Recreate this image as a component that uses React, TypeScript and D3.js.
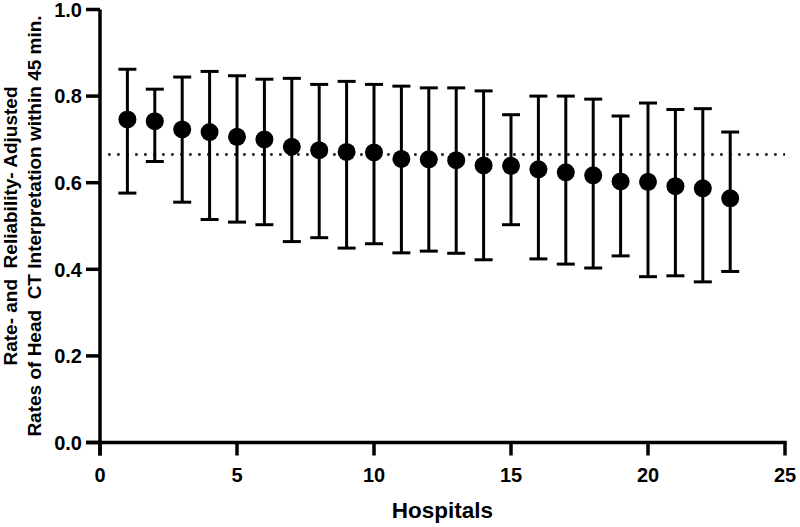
import React from "react";
import * as d3 from "d3";

// hospital index, point estimate and interval ends
const hospitals = d3.range(1, 24);
const estimates = [0.746, 0.742, 0.723, 0.717, 0.706, 0.700, 0.683, 0.675, 0.671, 0.670, 0.655, 0.654, 0.652, 0.640, 0.639, 0.631, 0.624, 0.617, 0.603, 0.602, 0.592, 0.587, 0.564];
const upper = [0.862, 0.816, 0.844, 0.857, 0.847, 0.839, 0.841, 0.827, 0.834, 0.827, 0.823, 0.819, 0.819, 0.812, 0.757, 0.800, 0.800, 0.793, 0.754, 0.784, 0.769, 0.771, 0.717];
const lower = [0.576, 0.649, 0.555, 0.515, 0.509, 0.503, 0.464, 0.473, 0.449, 0.459, 0.438, 0.442, 0.437, 0.422, 0.503, 0.424, 0.412, 0.403, 0.431, 0.383, 0.385, 0.371, 0.395];
const reference = 0.665;

const xTicks = [0, 5, 10, 15, 20, 25];
const yTicks = [0, 0.2, 0.4, 0.6, 0.8, 1.0];

const W = 800;
const H = 527;
const font = "'Liberation Sans', Arial, sans-serif";

export default function App() {
  const x = d3.scaleLinear().domain([0, 25]).range([100, 785]);
  const y = d3.scaleLinear().domain([0, 1]).range([442.5, 9.5]);
  const cap = 9;
  const midY = (y(0) + y(1)) / 2;

  return (
    <svg width={W} height={H} style={{ position: "absolute", left: 0, top: 0 }}>
      <rect width={W} height={H} fill="#fff" />

      {/* reference line */}
      <line
        x1={x(0.3)}
        x2={x(25)}
        y1={y(reference)}
        y2={y(reference)}
        stroke="#000"
        strokeWidth={2.4}
        strokeDasharray="2.4 6.6"
      />

      {/* error bars */}
      {hospitals.map((h, i) => (
        <g key={h} stroke="#000" strokeWidth={3}>
          <line x1={x(h)} x2={x(h)} y1={y(upper[i])} y2={y(lower[i])} />
          <line x1={x(h) - cap} x2={x(h) + cap} y1={y(upper[i])} y2={y(upper[i])} />
          <line x1={x(h) - cap} x2={x(h) + cap} y1={y(lower[i])} y2={y(lower[i])} />
        </g>
      ))}
      {hospitals.map((h, i) => (
        <circle key={h} cx={x(h)} cy={y(estimates[i])} r={9} fill="#000" />
      ))}

      {/* axes */}
      <g stroke="#000" strokeWidth={3.5} fill="none">
        <line x1={x(0)} x2={x(0)} y1={y(1)} y2={y(0) + 13} />
        <line x1={x(0) - 14} x2={x(25) + 1.7} y1={y(0)} y2={y(0)} />
        {yTicks.map((t) => (
          <line key={t} x1={x(0) - 14} x2={x(0)} y1={y(t)} y2={y(t)} />
        ))}
        {xTicks.map((t) => (
          <line key={t} x1={x(t)} x2={x(t)} y1={y(0)} y2={y(0) + 13} />
        ))}
      </g>

      <g fontFamily={font} fontWeight="bold" fill="#000">
        {yTicks.map((t) => (
          <text key={t} x={x(0) - 18} y={y(t)} dy="0.36em" textAnchor="end" style={{ fontSize: 20 }}>
            {d3.format(".1f")(t)}
          </text>
        ))}
        {xTicks.map((t) => (
          <text key={t} x={x(t)} y={482} textAnchor="middle" style={{ fontSize: 20 }}>
            {t}
          </text>
        ))}
        <text x={(x(0) + x(25)) / 2} y={518} textAnchor="middle" style={{ fontSize: 22.5 }}>
          Hospitals
        </text>
        <text transform={`translate(17,${midY}) rotate(-90)`} textAnchor="middle" style={{ fontSize: 19, whiteSpace: "pre" }}>
          {"Rate- and\u00a0 Reliability- Adjusted"}
        </text>
        <text transform={`translate(41,${midY}) rotate(-90)`} textAnchor="middle" style={{ fontSize: 19, whiteSpace: "pre" }}>
          {"Rates of Head\u00a0 CT Interpretation within 45 min."}
        </text>
      </g>
    </svg>
  );
}
